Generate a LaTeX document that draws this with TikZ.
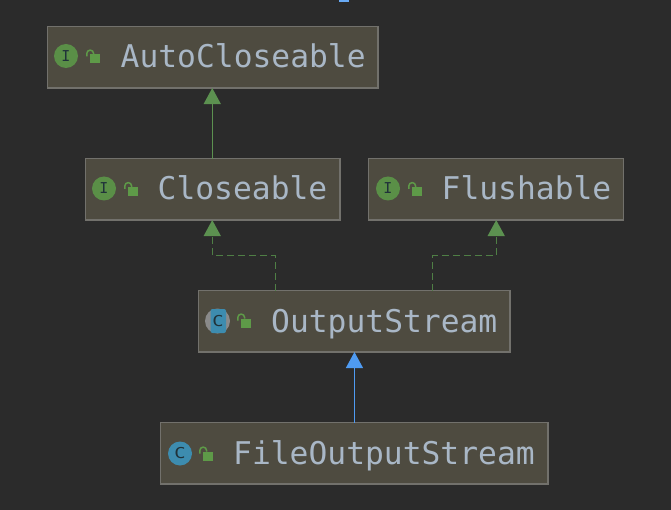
\documentclass[tikz,border=0pt]{standalone}
\usepackage{fontspec}
\usepackage{graphicx}
\setmonofont{DejaVu Sans Mono}
\usetikzlibrary{arrows.meta,calc}
\definecolor{bgc}{HTML}{2B2B2B}
\definecolor{boxfill}{HTML}{4E4B40}
\definecolor{boxline}{HTML}{72716C}
\definecolor{txt}{HTML}{A9B7C6}
\definecolor{igreen}{HTML}{5A8F47}
\definecolor{lgreen}{HTML}{5E9A48}
\definecolor{agreen}{HTML}{5C9150}
\definecolor{dgreen}{HTML}{4F7F45}
\definecolor{ablue}{HTML}{4F9BF2}
\definecolor{cblue}{HTML}{3D8CAF}
\definecolor{cgrey}{HTML}{8A8A8A}
\definecolor{glyph}{HTML}{20323A}
\tikzset{
  x=1pt,y=-1pt,
  classbox/.style={draw=boxline,fill=boxfill,line width=1.5pt,minimum height=61.5pt,inner sep=0pt,outer sep=0pt},
  classname/.style={anchor=base west,inner sep=0pt,text=txt,font=\ttfamily\fontsize{31.3pt}{34pt}\selectfont},
  icontext/.style={inner sep=0pt,text=glyph,font=\ttfamily\fontsize{15pt}{16pt}\selectfont},
  extends/.style={-{Triangle[length=16pt,width=17pt]},line width=1.3pt},
  implements/.style={-{Triangle[length=16pt,width=17pt,color=agreen]},line width=1.4pt,color=dgreen,dash pattern=on 7pt off 4pt},
}
\newcommand{\lockicon}[2]{%
  \fill[lgreen] (#1+3.5,#2-3.5) rectangle (#1+13.5,#2+5.5);
  \draw[lgreen,line width=1.5pt] (#1+0.8,#2-1.5) -- (#1+0.8,#2-4.5) arc[start angle=180,end angle=0,x radius=3.4,y radius=-3.4] -- (#1+7.6,#2-3.5);
}
\begin{document}
\begin{tikzpicture}
\useasboundingbox (0,0) rectangle (671,510);
\fill[bgc] (0,0) rectangle (671,510);
\fill[ablue!85!white] (338.5,0) rectangle (349,2);

\node[classbox,minimum width=330.5pt] (auto) at (212.5,57.3) {};
\node[classbox,minimum width=254.5pt] (close) at (212.5,189.3) {};
\node[classbox,minimum width=255pt] (flush) at (496.2,189.3) {};
\node[classbox,minimum width=311.5pt] (out) at (354,321.3) {};
\node[classbox,minimum width=387.5pt] (file) at (354.2,453.3) {};

\node[classname] (autot) at (120.5,68) {AutoCloseable};
\node[classname] (closet) at (157.5,200) {Closeable};
\node[classname] (flusht) at (441.5,200) {Flushable};
\node[classname] (outt) at (271,332) {OutputStream};
\node[classname] (filet) at (233,464) {FileOutputStream};

% icons
\fill[igreen] (66,56) circle[radius=12];
\node[icontext] (autoi) at (66,56) {I};
\lockicon{86}{58}
\fill[igreen] (104,188.5) circle[radius=12];
\node[icontext] (closei) at (104,188.5) {I};
\lockicon{124}{190.5}
\fill[igreen] (388,188.5) circle[radius=12];
\node[icontext] (flushi) at (388,188.5) {I};
\lockicon{408}{190.5}
\fill[cgrey] (217.5,321) circle[radius=12.5];
\fill[cblue,rounded corners=2pt] (210.5,309) rectangle (226,333);
\node[icontext] (outi) at (218,321) {\scalebox{1.25}[1]{C}};
\lockicon{237}{322}
\fill[cblue] (180,453.5) circle[radius=12];
\node[icontext] (filei) at (180,453.5) {\scalebox{1.25}[1]{C}};
\lockicon{199}{455}

% connectors
\coordinate (c1) at ($(close.north west)+(127,0)$);
\draw[extends,color=agreen] (c1) -- (auto.south -| c1);
\coordinate (o1) at ($(out.north west)+(77.5,0)$);
\coordinate (o2) at ($(out.north west)+(234.5,0)$);
\coordinate (t1) at ($(close.south west)+(127,0)$);
\coordinate (t2) at ($(flush.south west)+(127.5,0)$);
\draw[implements] (o1) -- ($(o1)+(0,-35)$) -| (t1);
\draw[implements] (o2) -- ($(o2)+(0,-35)$) -| (t2);
\coordinate (f1) at ($(file.north west)+(194,0)$);
\draw[extends,color=ablue] (f1) -- (out.south -| f1);
\end{tikzpicture}
\end{document}
